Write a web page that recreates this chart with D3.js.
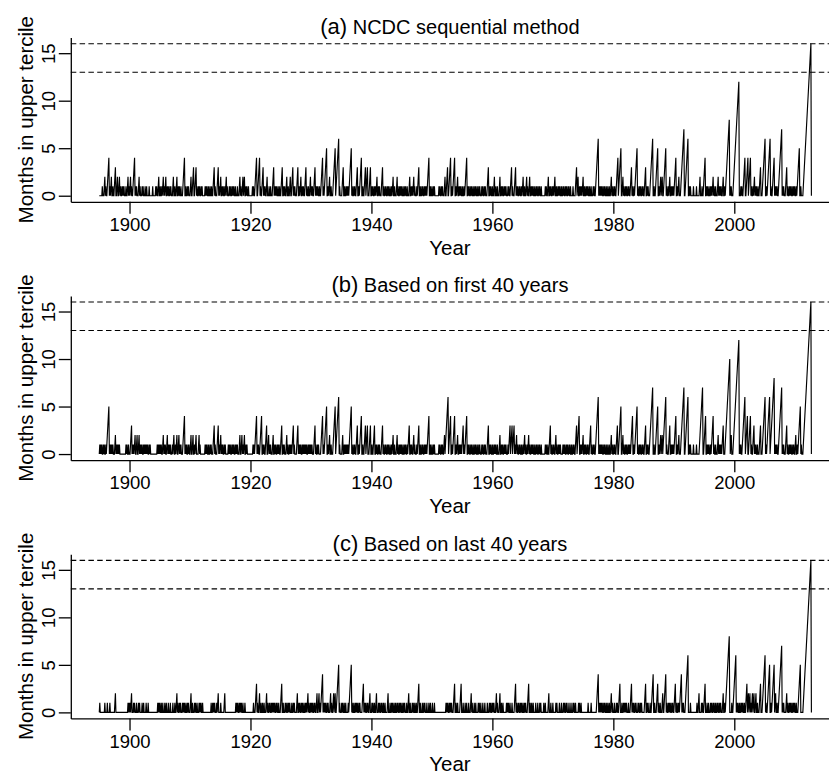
<!DOCTYPE html>
<html>
<head>
<meta charset="utf-8">
<script src="https://cdn.jsdelivr.net/npm/d3@7"></script>
<style>
  body { margin: 0; background: #fff; }
  svg { display: block; font-family: "Liberation Sans", Arial, Helvetica, sans-serif; }
</style>
</head>
<body>
<svg id="chart" width="829" height="775"></svg>
<script>
// Monthly run length of consecutive months in the upper tercile, Jan 1895 onward.
// One string per year (Jan..Dec), one row per decade; a=10 ... g=16.
const startYear = 1895;
const xTicks = [1900, 1920, 1940, 1960, 1980, 2000];
const yTicks = [0, 5, 10, 15];
const refLines = [13, 16];
const panelLabels = ['(a)', '(b)', '(c)'];
const panelTitles = ['NCDC sequential method', 'Based on first 40 years', 'Based on last 40 years'];

const seriesA = [
  '000000100012 010012340101 200100123001 200120100101 010001001201 012010012340 101000120100 010100010010 000100000010 000010100120',
  '010010120101 200101001010 001200100120 010100100012 340010010100 012001230012 301001010010 100000101010 010010010012 301000123010',
  '120010100101 201000101001 010100100010 001201001201 200101001000 000010100123 400123401001 230101001200 010010001230 101010010010',
  '012300101001 200100120012 301010001230 010120010100 123010010012 010100123010 101001001234 010123450010 120010001234 501234560100',
  '001230010010 101012345010 010100123001 012340010012 301230001230 010100101012 001010001230 100101001010 010010120010 001201001010',
  '100100101001 000120010101 201000101230 010010100101 010123400100 100101000000 001010010100 012001230012 340010123400 101200101010',
  '010010123400 101001010010 010100100101 000101001010 001230010100 100120010010 001200101001 010100010100 123010001230 101001010010',
  '120010012010 012001010100 100101001010 010000000101 001200101001 010120010010 101001001010 010100101001 000010000123 012001010101',
  '200100101010 010010001010 012345601010 101001010010 010010012010 010100123401 234500120100 101001010012 301001012345 010010100101',
  '001230010100 012345600100 123450010120 120012345010 010120010101 012340010120 001234567001 234560010100 000100000100 000120001001',
  '234001010010 010101201001 000120101010 012001012345 678010100012 3456789abc00 010100123400 123401234010 010120101001 001230001234',
  '560010123456 010012340101 010012345670 101000123010 010101001010 100101234500 100001234567 89abcdefg0'
];

const seriesB = [
  '010101001010 010123450101 010100012010 101010000000 000001010010 001230101012 001200120101 010010101010 100101000000 000000010101',
  '010100120101 001201010100 010120010120 012010100012 340101001010 012001200101 200001201000 000000101010 010010100012 301000123010',
  '120101001010 000010101001 010100101010 001200120101 200101000000 000001010123 401010012340 010100123001 201010001200 101001010100',
  '123001010001 201001010101 230100001230 101010010101 010100101010 101000123010 010100001234 010123450010 120010001234 501234560100',
  '001200101010 101012345010 010100123001 012340010012 301230001230 010012300101 001010001230 100101001010 010010120010 001201001010',
  '100100101001 012300101001 201000101230 010010100101 010123400100 100101000000 001010010100 120123456012 340010123400 101200101010',
  '123010123400 101001010010 010100100101 000101001010 001230010100 100101010010 001200101001 010100010123 012301230101 201001010010',
  '010120100101 201001010100 100101001010 010000000101 001001230100 101001201001 010100001010 100101001010 010010100123 012340010101',
  '200101001010 012301001010 012345601010 101001010010 010010012010 010100123001 234500120100 101001010101 234001012345 010010100101',
  '001230010100 123456700100 123450010120 120123456010 001230010101 012340010120 001234567001 234560010100 000100000100 000123456700',
  '123400101010 010123401001 000120101010 123000123456 789a01200012 3456789abc01 010012345601 234001234010 012301010010 001230001234',
  '560101234560 123456780101 010012345670 101000123010 010101001010 012001012345 010001234567 89abcdefg0'
];

const seriesC = [
  '010000000001 000010000100 000000012000 000000000000 000000000101 010120001010 001000101000 010010000100 010000000000 000000001010',
  '100100100010 010001000100 001000100120 100101000101 010010010100 012001000101 001000101010 010000000000 000000100101 010001012000',
  '010000001200 000000000000 000000010101 001010100100 010000000000 000000100012 301001200100 100100012010 010100101010 100101001000',
  '123001000101 001010100010 010100001200 101001010010 010101201001 010100101001 200120101234 010101001010 001201001201 200123450100',
  '010100100100 001012345010 010010101001 010000123010 100101001200 010100100120 001010010100 100100001200 010010100100 100101001010',
  '010010100010 012001000101 001001001230 010001001010 001000100100 010001000000 000000000000 000010101001 010100012300 100100001230',
  '001000100100 010001201000 100100001010 010001000100 001000101001 010100012010 001200100100 000010101001 000100001230 100101001010',
  '010010100012 300100100100 001000100010 100000100100 000120001000 100000101000 010001000101 001010001000 100010100100 000101001000',
  '000000000010 000010000000 000123401010 101001010010 010010012010 001000101001 230001001010 101000100012 301010010100 010100101000',
  '001230010100 010012340010 001230100100 012001234010 010101001010 012301001010 123401010001 234560000100 000000000010 012000010100',
  '123000100100 010100101001 001010010100 012001012345 678000010012 345601010010 010101001001 230120120101 201200120010 001230001234',
  '560100123450 010123450120 010012345670 101000012010 010101001010 100100012345 000001234567 89abcdefg0'
];

const allSeries = [seriesA, seriesB, seriesC];

function toPoints(rows) {
  const chars = rows.join('').replace(/\s+/g, '').split('');
  return chars.map((c, i) => ({ t: startYear + i / 12, v: parseInt(c, 36) }));
}

const W = 829, H = 775, panelH = H / 3;
const plot = { left: 70.8, right: 829, top: 37.6, bottom: 201.8 };

const x = d3.scaleLinear().domain([1890.29, 2015.66]).range([plot.left, plot.right]);
const y = d3.scaleLinear().domain([-0.64, 16.64]).range([plot.bottom, plot.top]);

const line = d3.line()
  .x(d => x(d.t))
  .y(d => y(d.v));

const svg = d3.select('#chart');

allSeries.forEach((rows, i) => {
  const g = svg.append('g').attr('transform', `translate(0,${i * panelH})`);
  const pts = toPoints(rows);

  // dashed reference levels
  g.selectAll('.ref')
    .data(refLines)
    .join('line')
    .attr('class', 'ref')
    .attr('x1', plot.left)
    .attr('x2', plot.right)
    .attr('y1', d => y(d))
    .attr('y2', d => y(d))
    .attr('stroke', '#000')
    .attr('stroke-width', 1.1)
    .attr('stroke-dasharray', '5.5,3.3');

  g.append('path')
    .datum(pts)
    .attr('fill', 'none')
    .attr('stroke', '#000')
    .attr('stroke-width', 1.15)
    .attr('stroke-linejoin', 'miter')
    .attr('d', line);

  // X axis
  const xa = g.append('g')
    .attr('transform', `translate(0,${plot.bottom})`)
    .call(d3.axisBottom(x).tickValues(xTicks).tickFormat(d3.format('d'))
      .tickSizeInner(12).tickSizeOuter(0).tickPadding(4));
  xa.attr('font-family', null).attr('font-size', null);
  xa.selectAll('text').style('font-size', '18.5px').attr('fill', '#000');
  xa.selectAll('path, line').attr('stroke', '#000').attr('stroke-width', 1.3);

  // Y axis
  const ya = g.append('g')
    .attr('transform', `translate(${plot.left},0)`)
    .call(d3.axisLeft(y).tickValues(yTicks).tickSizeInner(12).tickSizeOuter(0));
  ya.attr('font-family', null).attr('font-size', null);
  ya.selectAll('path, line').attr('stroke', '#000').attr('stroke-width', 1.3);
  ya.selectAll('text')
    .style('font-size', '18.5px')
    .attr('fill', '#000')
    .attr('transform', 'rotate(-90)')
    .attr('x', 0)
    .attr('y', -15.8)
    .attr('dy', null)
    .attr('text-anchor', 'middle');

  // Labels
  g.append('text')
    .attr('x', (plot.left + plot.right) / 2)
    .attr('y', 254.8)
    .attr('text-anchor', 'middle')
    .style('font-size', '20.5px')
    .text('Year');

  g.append('text')
    .attr('transform', `translate(33,${(plot.top + plot.bottom) / 2}) rotate(-90)`)
    .attr('text-anchor', 'middle')
    .style('font-size', '20.5px')
    .text('Months in upper tercile');

  const title = g.append('text')
    .attr('x', (plot.left + plot.right) / 2)
    .attr('y', 34)
    .attr('text-anchor', 'middle');
  title.append('tspan').style('font-size', '22px').text(panelLabels[i]);
  title.append('tspan').style('font-size', '20px').text(' ' + panelTitles[i]);
});
</script>
</body>
</html>
